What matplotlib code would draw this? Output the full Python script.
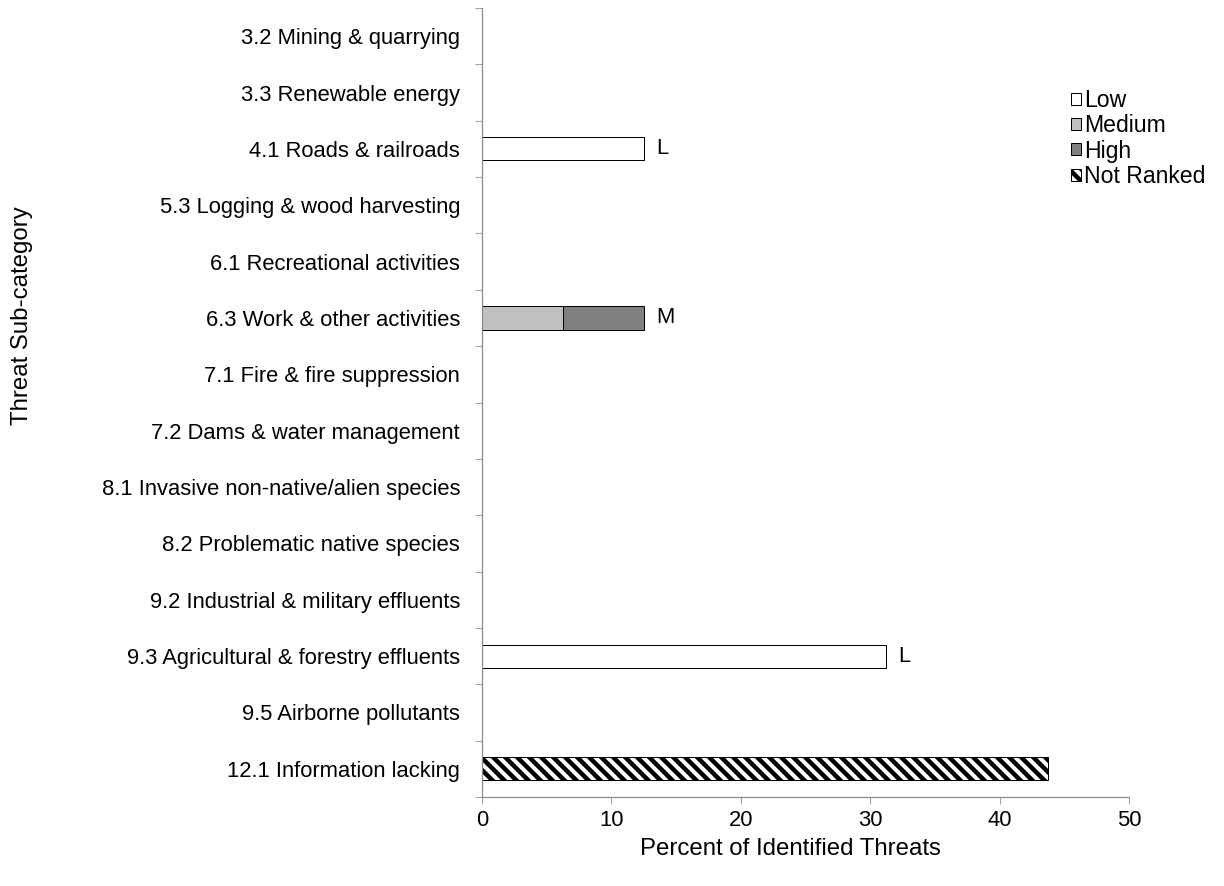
import matplotlib.pyplot as plt
import numpy as np

plt.rcParams['font.family'] = ['Liberation Sans', 'DejaVu Sans']
plt.rcParams['hatch.linewidth'] = 4.5

#Chart data
categories = ['3.2 Mining & quarrying', '3.3 Renewable energy', '4.1 Roads & railroads',
              '5.3 Logging & wood harvesting', '6.1 Recreational activities',
              '6.3 Work & other activities', '7.1 Fire & fire suppression',
              '7.2 Dams & water management', '8.1 Invasive non-native/alien species',
              '8.2 Problematic native species', '9.2 Industrial & military effluents',
              '9.3 Agricultural & forestry effluents', '9.5 Airborne pollutants',
              '12.1 Information lacking']
low = [0, 0, 12.5, 0, 0, 0, 0, 0, 0, 0, 0, 31.25, 0, 0]
medium = [0, 0, 0, 0, 0, 6.25, 0, 0, 0, 0, 0, 0, 0, 0]
high = [0, 0, 0, 0, 0, 6.25, 0, 0, 0, 0, 0, 0, 0, 0]
not_ranked = [0, 0, 0, 0, 0, 0, 0, 0, 0, 0, 0, 0, 0, 43.75]
rank_labels = ['', '', 'L', '', '', 'M', '', '', '', '', '', 'L', '', '']
x_ticks = [0, 10, 20, 30, 40, 50]

fs = 22
fs_title = 24

#dpi 72 keeps the hatch cell in step with the pixel grid
fig = plt.figure(figsize=(1224 / 72, 886 / 72), dpi=72)
ax = fig.add_axes([482 / 1224, 1 - 797 / 886, (1129 - 482) / 1224, (797 - 8) / 886])

y = np.arange(len(categories))
h = 0.41
ax.barh(y, low, height=h, color='white', edgecolor='black', linewidth=1, label='Low')
ax.barh(y, medium, height=h, left=low, color='#c0c0c0', edgecolor='black', linewidth=1, label='Medium')
left2 = np.array(low) + np.array(medium)
ax.barh(y, high, height=h, left=left2, color='#808080', edgecolor='black', linewidth=1, label='High')
ax.barh(y, not_ranked, height=h, color='white', edgecolor='black', linewidth=1, hatch='\\\\', label='Not Ranked')

#Rank letters next to bars
totals = np.array(low) + np.array(medium) + np.array(high) + np.array(not_ranked)
for i, lab in enumerate(rank_labels):
    if lab:
        ax.text(totals[i] + 0.95, i, lab, fontsize=fs, va='center', ha='left')

ax.set_xlim(0, 50)
ax.set_ylim(len(categories) - 0.5, -0.5)
ax.set_xticks(x_ticks)
ax.set_xticklabels([str(t) for t in x_ticks], fontsize=fs)
ax.tick_params(axis='x', length=7, color='#888888', pad=6)

#Ticks at category boundaries, labels at centres
ax.set_yticks(np.arange(-0.5, len(categories), 1.0))
ax.set_yticklabels([])
ax.tick_params(axis='y', which='major', length=7, color='#888888')
ax.set_yticks(y, minor=True)
ax.set_yticklabels(categories, minor=True, fontsize=fs)
ax.tick_params(axis='y', which='minor', length=0, pad=22)

for s in ['top', 'right']:
    ax.spines[s].set_visible(False)
for s in ['left', 'bottom']:
    ax.spines[s].set_color('#888888')
    ax.spines[s].set_linewidth(1.2)

fig.text(790 / 1224, 1 - 849 / 886, 'Percent of Identified Threats', fontsize=fs_title, ha='center', va='center')
fig.text(22 / 1224, 1 - 316 / 886, 'Threat Sub-category', fontsize=fs_title, rotation=90, ha='center', va='center')

ax.legend(loc='upper left', bbox_to_anchor=(1071 / 1224, 1 - 89 / 886), bbox_transform=fig.transFigure,
          frameon=False, fontsize=23, handlelength=0.42, handleheight=0.42, handletextpad=0.15,
          labelspacing=0.1, borderpad=0, borderaxespad=0)

fig.savefig('out.png', dpi=72)
